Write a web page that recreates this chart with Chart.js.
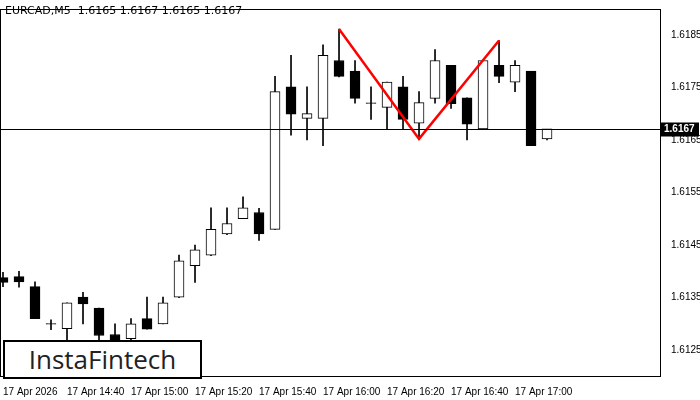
<!DOCTYPE html>
<html><head><meta charset="utf-8">
<script src="https://cdn.jsdelivr.net/npm/chart.js@4"></script>
<style>
body{margin:0;background:#fff;}
#wrap{position:relative;width:700px;height:400px;}
#title{position:absolute;left:5px;top:4px;font:11px "DejaVu Sans",sans-serif;color:#000;}
#logo{position:absolute;left:3px;top:340px;width:195px;height:35px;border:2px solid #000;background:#fff;font:26px "Open Sans",sans-serif;color:#222;text-align:center;line-height:35px;}
</style></head><body>
<div id="wrap"><canvas id="c" width="700" height="400"></canvas>
<div id="title">EURCAD,M5&nbsp; 1.6165 1.6167 1.6165 1.6167</div>
<div id="logo">InstaFintech</div></div>
<script>
const opens  =[1.61388,1.6139,1.61371,1.6130,1.61291,1.61351,1.61330,1.6128,1.61272,1.61310,1.61300,1.61351,1.61411,1.61431,1.61471,1.61500,1.61512,1.61480,1.61751,1.61691,1.61691,1.61801,1.61781,1.6172,1.61712,1.61751,1.61682,1.61729,1.61792,1.61730,1.61671,1.61792,1.61760,1.61781,1.61652];
const closes =[1.61379,1.6138,1.61310,1.6130,1.61340,1.61338,1.61278,1.6127,1.61300,1.61290,1.61340,1.61420,1.61441,1.61480,1.61491,1.61521,1.61471,1.61742,1.61699,1.61700,1.61811,1.61771,1.61729,1.6172,1.61760,1.61689,1.61721,1.61801,1.61719,1.61680,1.61801,1.61771,1.61792,1.61639,1.61671];
const highs  =[1.61398,1.6140,1.61380,1.61308,1.6134,1.6136,1.6133,1.6130,1.6131,1.61351,1.61351,1.61431,1.6145,1.61521,1.61521,1.61542,1.6152,1.61771,1.61811,1.61751,1.61831,1.61861,1.61801,1.61751,1.6176,1.61771,1.61742,1.61822,1.6179,1.6173,1.6180,1.61839,1.61801,1.6178,1.6167];
const lows   =[1.61371,1.6137,1.6131,1.61289,1.6127,1.6130,1.6126,1.6124,1.6126,1.6129,1.6130,1.6135,1.61379,1.6143,1.6147,1.6150,1.61459,1.6148,1.61659,1.6165,1.61639,1.6177,1.6172,1.61689,1.61671,1.6167,1.61652,1.6172,1.6171,1.6165,1.6167,1.61759,1.61742,1.6164,1.6165];
const timeLabels=["17 Apr 2026","17 Apr 14:40","17 Apr 15:00","17 Apr 15:20","17 Apr 15:40","17 Apr 16:00","17 Apr 16:20","17 Apr 16:40","17 Apr 17:00"];
const priceTicks=[1.6125,1.6135,1.6145,1.6155,1.6165,1.6175,1.6185];
const patternX=[21,26,31];
const patternY=[1.61861,1.61652,1.61839];
const currentPrice=1.6167;

const idx=opens.map((_,i)=>i);
const wick=idx.map(i=>({x:i,y:[lows[i],highs[i]]}));
const body=idx.map(i=>{let lo=Math.min(opens[i],closes[i]),hi=Math.max(opens[i],closes[i]);if(hi-lo<0.00001){lo-=0.000005;hi+=0.000005;}return {x:i,y:[lo,hi]};});
const bodyColor=idx.map(i=>closes[i]>opens[i]?'#fff':'#000');

const extra={id:'extra',
 afterDatasetsDraw(ch){const {ctx,chartArea:a,scales:{y}}=ch;
  ctx.save();ctx.strokeStyle='#000';ctx.lineWidth=1;
  ctx.strokeRect(a.left+0.5,a.top+0.5,a.right-a.left,a.bottom-a.top);
  const py=Math.round(y.getPixelForValue(currentPrice))+0.5;
  ctx.beginPath();ctx.moveTo(a.left,py);ctx.lineTo(a.right,py);ctx.stroke();
  ctx.fillStyle='#000';ctx.fillRect(a.right+1,py-7,38,14);
  ctx.fillStyle='#fff';ctx.font='bold 10px "Liberation Sans"';ctx.textBaseline='middle';ctx.fillText(currentPrice.toFixed(4),a.right+4,py);
  ctx.restore();}};

new Chart(document.getElementById('c'),{
 data:{datasets:[
  {type:'bar',data:wick,backgroundColor:'#000',barThickness:1,grouped:false,order:3},
  {type:'bar',data:body,backgroundColor:bodyColor,borderColor:'#000',borderWidth:1,borderSkipped:false,barThickness:10,grouped:false,order:2},
  {type:'line',data:patternX.map((x,i)=>({x,y:patternY[i]})),borderColor:'#f00',borderWidth:2.5,pointRadius:0,order:1}
 ]},
 options:{responsive:false,animation:false,
  layout:{padding:{top:5,left:0,right:0,bottom:0}},
  plugins:{legend:{display:false},tooltip:{enabled:false}},
  scales:{
   x:{type:'linear',offset:false,min:-0.1875,max:41.06,grid:{display:false,offset:false},border:{color:'#000'},
    afterBuildTicks(s){s.ticks=timeLabels.map((_,i)=>({value:i*4}));},
    ticks:{autoSkip:false,maxRotation:0,align:'start',padding:2,color:'#000',font:{size:10,family:'Liberation Sans'},callback:(v)=>timeLabels[v/4]}},
   y:{position:'right',min:1.61201,max:1.61899,grid:{display:false},border:{color:'#000'},
    afterBuildTicks(s){s.ticks=priceTicks.map(v=>({value:v}));},
    afterFit(s){s.width=40;},
    ticks:{color:'#000',padding:3,font:{size:10,family:'Liberation Sans'},callback:v=>v.toFixed(4)}}
  }},
 plugins:[extra]});
</script></body></html>
